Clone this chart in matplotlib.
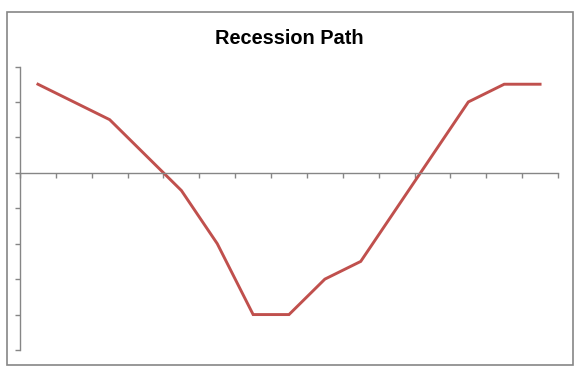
import matplotlib
matplotlib.use("Agg")
import matplotlib.pyplot as plt
from matplotlib.patches import Rectangle

title = "Recession Path"
values = [2.5, 2, 1.5, 0.5, -0.5, -2, -4, -4, -3, -2.5, -1, 0.5, 2, 2.5, 2.5]
y_ticks = [-5, -4, -3, -2, -1, 0, 1, 2, 3]

W, H = 584, 377
fig = plt.figure(figsize=(W / 100, H / 100), dpi=100)
fig.patch.set_facecolor("white")

gray = "#868686"
# outer chart border
fig.patches.append(Rectangle((6.5 / W, 1 - 365 / H), (573 - 6.5) / W, (365 - 11.7) / H,
                             transform=fig.transFigure, fill=False, edgecolor=gray, lw=1.2))

left, right = 20 / W, 558 / W
bottom, top = 1 - 350 / H, 1 - 66.5 / H
ax = fig.add_axes([left, bottom, right - left, top - bottom])
ax.set_facecolor("none")

n = len(values)
xs = [i + 0.5 for i in range(n)]
ax.plot(xs, values, color="#C0504D", lw=2.1, solid_joinstyle="miter")

ax.set_xlim(0, n)
ax.set_ylim(y_ticks[0], y_ticks[-1])
ax.set_xticks(range(n + 1))
ax.set_yticks(y_ticks)
ax.set_xticklabels([])
ax.set_yticklabels([])

for s in ["top", "right"]:
    ax.spines[s].set_visible(False)
ax.spines["bottom"].set_position(("data", 0))
for s in ["left", "bottom"]:
    ax.spines[s].set_color(gray)
    ax.spines[s].set_linewidth(1.0)
ax.tick_params(axis="both", direction="out", length=3.5, width=1.0, color=gray)

fig.text(289.5 / W, 1 - 43.5 / H, title, ha="center", va="baseline",
         fontsize=14.4, fontweight="bold", family=["Liberation Sans", "DejaVu Sans"], color="black")

fig.savefig("out.png", dpi=100, facecolor="white")
